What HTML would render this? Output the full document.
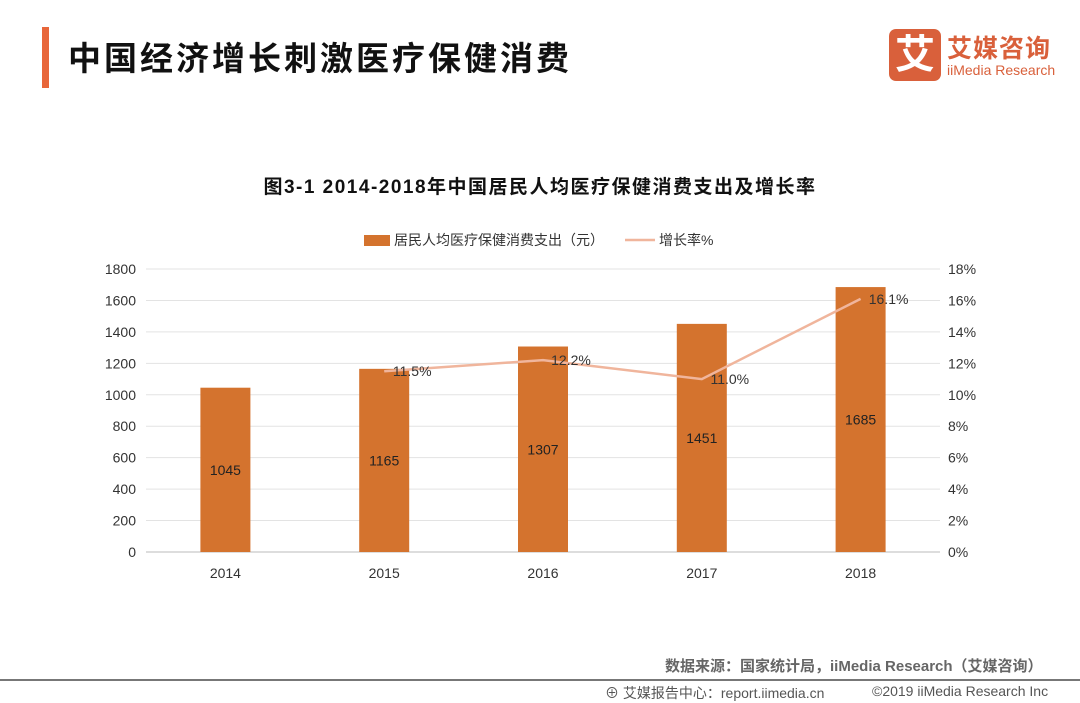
<!DOCTYPE html>
<html><head><meta charset="utf-8"><style>
body{margin:0;width:1080px;height:703px;background:#fff;position:relative;overflow:hidden;font-family:"Liberation Sans","Noto Sans CJK SC",sans-serif}
.a{position:absolute}
</style></head><body>
<div class="a" style="left:42px;top:27px;width:7px;height:61px;background:#e8663a"></div>
<div class="a" style="left:68px;top:32px;font-size:33px;font-weight:bold;color:#111;letter-spacing:3px">中国经济增长刺激医疗保健消费</div>
<div class="a" style="left:889px;top:29px;width:52px;height:52px;background:#d9603b;border-radius:7px;color:#fff;font-size:40px;font-weight:bold;text-align:center;line-height:52px">艾</div>
<div class="a" style="left:947px;top:29px;font-size:25px;font-weight:bold;color:#d9603b;letter-spacing:1px">艾媒咨询</div>
<div class="a" style="left:947px;top:62px;font-size:14px;color:#d9603b">iiMedia Research</div>
<div class="a" style="left:0;width:1080px;top:172px;text-align:center;font-size:19px;font-weight:bold;color:#111;letter-spacing:1.5px">图3-1 2014-2018年中国居民人均医疗保健消费支出及增长率</div>
<svg class="a" style="left:0;top:0" width="1080" height="703" id="chart">
<g id="legend">
<rect x="364" y="235" width="26" height="11" fill="#d4732e"/>
<text x="394" y="245" font-size="14" fill="#333">居民人均医疗保健消费支出（元）</text>
<line x1="625" y1="240" x2="655" y2="240" stroke="#f0b59c" stroke-width="2.5"/>
<text x="659" y="245" font-size="14" fill="#333">增长率%</text>
</g>
</svg>
<div class="a" style="left:665px;top:655px;font-size:15px;font-weight:bold;color:#666">数据来源：国家统计局，iiMedia Research（艾媒咨询）</div>
<div class="a" style="left:0;top:679px;width:1080px;height:2px;background:#777"></div>
<div class="a" style="left:605px;top:683px;font-size:14px;color:#555">⊕ 艾媒报告中心：report.iimedia.cn</div>
<div class="a" style="left:872px;top:683px;font-size:14px;color:#555">©2019 iiMedia Research Inc</div>
<script>
const years=["2014","2015","2016","2017","2018"];
const spend=[1045,1165,1307,1451,1685];
const growth=[null,11.5,12.2,11.0,16.1];
const leftTicks=[0,200,400,600,800,1000,1200,1400,1600,1800];
const rightTicks=[0,2,4,6,8,10,12,14,16,18];
const svg=document.getElementById('chart');const NS='http://www.w3.org/2000/svg';
const X0=146,X1=940,Y0=552,Y1=269;
const bw=(X1-X0)/years.length;
const xc=i=>X0+bw*(i+0.5);
const yL=v=>Y0-(v/1800)*(Y0-Y1);
const yR=v=>Y0-(v/18)*(Y0-Y1);
function mk(t,a,txt){const e=document.createElementNS(NS,t);for(const k in a)e.setAttribute(k,a[k]);if(txt!=null)e.textContent=txt;svg.appendChild(e);return e;}
leftTicks.forEach((v,i)=>{
 const g=mk('line',{x1:X0,x2:X1,y1:yL(v),y2:yL(v),stroke:v===0?'#bbb':'#e3e3e3','stroke-width':1});
 
 
 const t=mk('text',{x:136,y:yL(v)+5,'font-size':14,fill:'#333','text-anchor':'end'},v);
 
 
});
rightTicks.forEach(v=>{
 const t=mk('text',{x:948,y:yR(v)+5,'font-size':14,fill:'#333'},v+'%');
 
 
});
years.forEach((y,i)=>{
 const r=mk('rect',{x:xc(i)-25,y:yL(spend[i]),width:50,height:Y0-yL(spend[i]),fill:'#d4732e'});
 
 
 const v=mk('text',{x:xc(i),y:(yL(spend[i])+Y0)/2+5,'font-size':14,fill:'#222','text-anchor':'middle'},spend[i]);
 
 
 const t=mk('text',{x:xc(i),y:578,'font-size':14,fill:'#333','text-anchor':'middle'},y);
 
 
});
let pts=[];growth.forEach((g,i)=>{if(g!=null)pts.push(xc(i)+','+yR(g));});
const pl=mk('polyline',{points:pts.join(' '),fill:'none',stroke:'#f0b59c','stroke-width':2.5});


growth.forEach((g,i)=>{if(g==null)return;
 const t=mk('text',{x:xc(i)+28,y:yR(g)+5,'font-size':14,fill:'#333','text-anchor':'middle'},g.toFixed(1)+'%');
 
 
});
</script>
</body></html>
